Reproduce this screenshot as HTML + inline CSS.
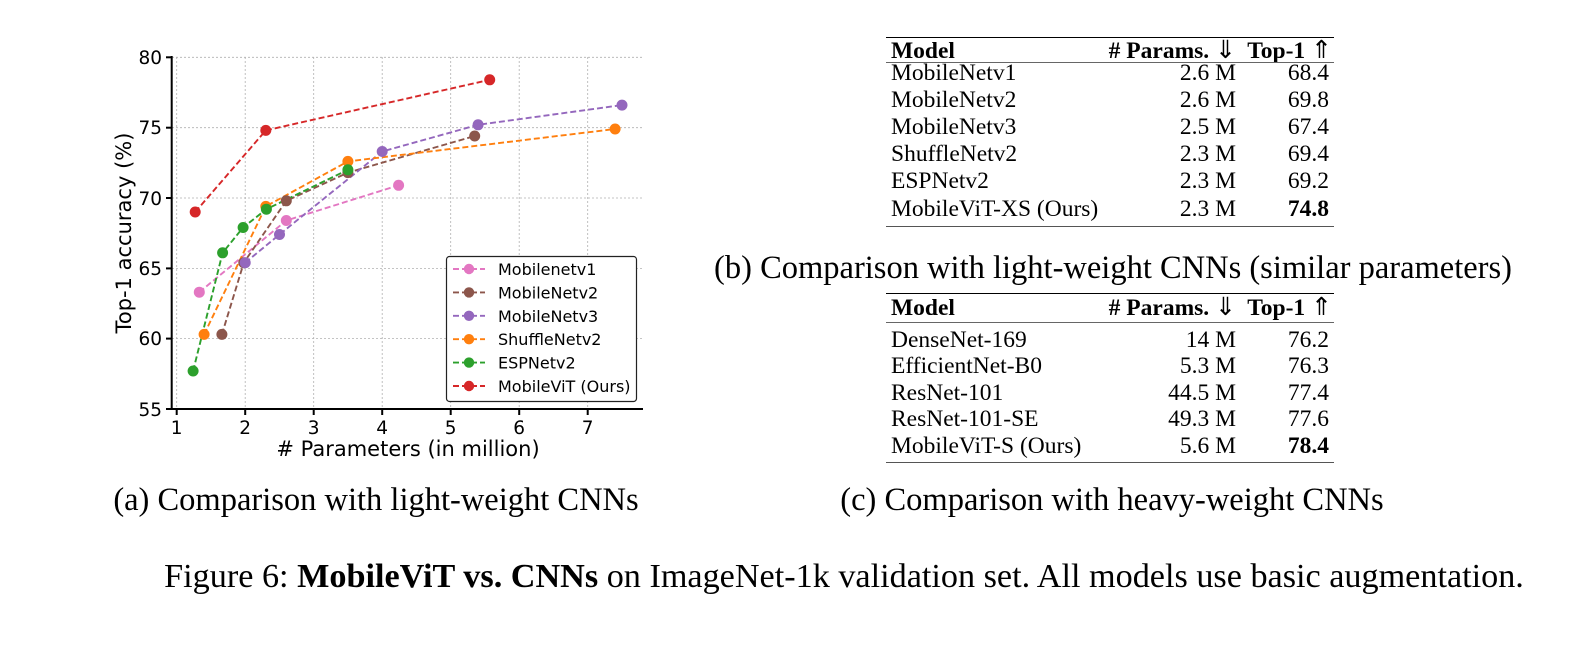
<!DOCTYPE html>
<html><head><meta charset="utf-8"><style>
html,body{margin:0;padding:0;background:#fff;}
body{width:1586px;height:646px;position:relative;overflow:hidden;}
.tb{position:absolute;left:886px;width:448px;font-family:"Liberation Serif",serif;font-size:23.5px;color:#000;}
.tb .r{position:absolute;left:0;width:448px;height:26px;line-height:26px;}
.tb .a{position:absolute;left:5px;}
.tb .b{position:absolute;right:98px;}
.tb .c{position:absolute;right:5px;}
.rule{position:absolute;left:0;width:448px;}
</style></head><body>

<div class="tb" style="top:37px;">
 <div class="rule" style="top:0;border-top:1.5px solid #000"></div>
 <div class="r" style="top:1px;font-weight:bold"><span class="a">Model</span><span style="position:absolute;right:98px;"># Params. <span style="font-weight:normal;font-size:25px">⇓</span></span><span class="c" style="right:2px">Top-1 <span style="font-weight:normal;font-size:25px">⇑</span></span></div>
 <div class="rule" style="top:25px;border-top:1px solid #666"></div>
 <div class="r" style="top:23px"><span class="a">MobileNetv1</span><span class="b">2.6 M</span><span class="c">68.4</span></div>
 <div class="r" style="top:50px"><span class="a">MobileNetv2</span><span class="b">2.6 M</span><span class="c">69.8</span></div>
 <div class="r" style="top:77px"><span class="a">MobileNetv3</span><span class="b">2.5 M</span><span class="c">67.4</span></div>
 <div class="r" style="top:104px"><span class="a">ShuffleNetv2</span><span class="b">2.3 M</span><span class="c">69.4</span></div>
 <div class="r" style="top:131px"><span class="a">ESPNetv2</span><span class="b">2.3 M</span><span class="c">69.2</span></div>
 <div class="r" style="top:159px"><span class="a">MobileViT-XS (Ours)</span><span class="b">2.3 M</span><span class="c" style="font-weight:bold">74.8</span></div>
 <div class="rule" style="top:189px;border-top:1.5px solid #555"></div>
</div>

<div class="tb" style="top:293px;">
 <div class="rule" style="top:0;border-top:1.5px solid #000"></div>
 <div class="r" style="top:2px;font-weight:bold"><span class="a">Model</span><span style="position:absolute;right:98px;"># Params. <span style="font-weight:normal;font-size:25px">⇓</span></span><span class="c" style="right:2px">Top-1 <span style="font-weight:normal;font-size:25px">⇑</span></span></div>
 <div class="rule" style="top:29px;border-top:1px solid #666"></div>
 <div class="r" style="top:34px"><span class="a">DenseNet-169</span><span class="b">14 M</span><span class="c">76.2</span></div>
 <div class="r" style="top:60px"><span class="a">EfficientNet-B0</span><span class="b">5.3 M</span><span class="c">76.3</span></div>
 <div class="r" style="top:87px"><span class="a">ResNet-101</span><span class="b">44.5 M</span><span class="c">77.4</span></div>
 <div class="r" style="top:113px"><span class="a">ResNet-101-SE</span><span class="b">49.3 M</span><span class="c">77.6</span></div>
 <div class="r" style="top:140px"><span class="a">MobileViT-S (Ours)</span><span class="b">5.6 M</span><span class="c" style="font-weight:bold">78.4</span></div>
 <div class="rule" style="top:169px;border-top:1.5px solid #555"></div>
</div>

<svg width="1586" height="646" style="position:absolute;left:0;top:0" xmlns="http://www.w3.org/2000/svg">
<g stroke="#b0b0b0" stroke-width="0.8" stroke-dasharray="2,2">
<line x1="176.7" y1="57" x2="176.7" y2="409"/><line x1="245.2" y1="57" x2="245.2" y2="409"/><line x1="313.7" y1="57" x2="313.7" y2="409"/><line x1="382.2" y1="57" x2="382.2" y2="409"/><line x1="450.7" y1="57" x2="450.7" y2="409"/><line x1="519.2" y1="57" x2="519.2" y2="409"/><line x1="587.7" y1="57" x2="587.7" y2="409"/>
<line x1="172" y1="57.3" x2="643" y2="57.3"/><line x1="172" y1="127.7" x2="643" y2="127.7"/><line x1="172" y1="198" x2="643" y2="198"/><line x1="172" y1="268.4" x2="643" y2="268.4"/><line x1="172" y1="338.6" x2="643" y2="338.6"/>
</g>
<g stroke="#000" stroke-width="2">
<line x1="171.7" y1="56" x2="171.7" y2="410"/><line x1="171" y1="409" x2="643" y2="409"/>
<line x1="166" y1="57.3" x2="171" y2="57.3"/><line x1="166" y1="127.7" x2="171" y2="127.7"/><line x1="166" y1="198" x2="171" y2="198"/><line x1="166" y1="268.4" x2="171" y2="268.4"/><line x1="166" y1="338.6" x2="171" y2="338.6"/><line x1="166" y1="409" x2="171" y2="409"/>
<line x1="176.7" y1="409" x2="176.7" y2="415"/><line x1="245.2" y1="409" x2="245.2" y2="415"/><line x1="313.7" y1="409" x2="313.7" y2="415"/><line x1="382.2" y1="409" x2="382.2" y2="415"/><line x1="450.7" y1="409" x2="450.7" y2="415"/><line x1="519.2" y1="409" x2="519.2" y2="415"/><line x1="587.7" y1="409" x2="587.7" y2="415"/>
</g>
<g font-family="DejaVu Sans, sans-serif" font-size="18.5" fill="#000" text-anchor="end">
<text x="162" y="64">80</text><text x="162" y="134">75</text><text x="162" y="205">70</text><text x="162" y="275">65</text><text x="162" y="345">60</text><text x="162" y="416">55</text>
</g>
<g font-family="DejaVu Sans, sans-serif" font-size="18.5" fill="#000" text-anchor="middle">
<text x="176.7" y="434">1</text><text x="245.2" y="434">2</text><text x="313.7" y="434">3</text><text x="382.2" y="434">4</text><text x="450.7" y="434">5</text><text x="519.2" y="434">6</text><text x="587.7" y="434">7</text>
<text x="408" y="456" font-size="21"># Parameters (in million)</text>
<text transform="translate(131,233) rotate(-90)" font-size="21">Top-1 accuracy (%)</text>
</g>
<g fill="none" stroke-width="1.9" stroke-dasharray="6,3">
<polyline stroke="#e377c2" points="199.3,292.2 286.3,220.5 398.6,185.3"/>
<polyline stroke="#8c564b" points="221.9,334.4 243.8,262.7 286.3,200.8 347.9,172.6 474.7,136"/>
<polyline stroke="#9467bd" points="245.2,262.7 279.5,234.5 382.2,151.5 478.1,124.8 622,105.1"/>
<polyline stroke="#ff7f0e" points="204.1,334.4 265.8,206.4 347.9,161.4 615.1,129"/>
<polyline stroke="#2ca02c" points="193.1,371 222.6,252.8 243.1,227.5 266.4,209.2 347.9,169.8"/>
<polyline stroke="#d62728" points="195.2,212 265.8,130.4 489.7,79.8"/>
</g>
<g fill="#e377c2"><circle cx="199.3" cy="292.2" r="5.5"/><circle cx="286.3" cy="220.5" r="5.5"/><circle cx="398.6" cy="185.3" r="5.5"/></g>
<g fill="#8c564b"><circle cx="221.9" cy="334.4" r="5.5"/><circle cx="243.8" cy="262.7" r="5.5"/><circle cx="286.3" cy="200.8" r="5.5"/><circle cx="347.9" cy="172.6" r="5.5"/><circle cx="474.7" cy="136" r="5.5"/></g>
<g fill="#9467bd"><circle cx="245.2" cy="262.7" r="5.5"/><circle cx="279.5" cy="234.5" r="5.5"/><circle cx="382.2" cy="151.5" r="5.5"/><circle cx="478.1" cy="124.8" r="5.5"/><circle cx="622" cy="105.1" r="5.5"/></g>
<g fill="#ff7f0e"><circle cx="204.1" cy="334.4" r="5.5"/><circle cx="265.8" cy="206.4" r="5.5"/><circle cx="347.9" cy="161.4" r="5.5"/><circle cx="615.1" cy="129" r="5.5"/></g>
<g fill="#2ca02c"><circle cx="193.1" cy="371" r="5.5"/><circle cx="222.6" cy="252.8" r="5.5"/><circle cx="243.1" cy="227.5" r="5.5"/><circle cx="266.4" cy="209.2" r="5.5"/><circle cx="347.9" cy="169.8" r="5.5"/></g>
<g fill="#d62728"><circle cx="195.2" cy="212" r="5.5"/><circle cx="265.8" cy="130.4" r="5.5"/><circle cx="489.7" cy="79.8" r="5.5"/></g>
<rect x="446.5" y="256.5" width="190" height="145" rx="3" fill="#fff" stroke="#222" stroke-width="1.2"/>
<g stroke-width="1.9" stroke-dasharray="6,3">
<line x1="453" y1="269" x2="485" y2="269" stroke="#e377c2"/>
<line x1="453" y1="292.4" x2="485" y2="292.4" stroke="#8c564b"/>
<line x1="453" y1="315.8" x2="485" y2="315.8" stroke="#9467bd"/>
<line x1="453" y1="339.2" x2="485" y2="339.2" stroke="#ff7f0e"/>
<line x1="453" y1="362.6" x2="485" y2="362.6" stroke="#2ca02c"/>
<line x1="453" y1="386" x2="485" y2="386" stroke="#d62728"/>
</g>
<circle cx="469" cy="269" r="5.2" fill="#e377c2"/><circle cx="469" cy="292.4" r="5.2" fill="#8c564b"/><circle cx="469" cy="315.8" r="5.2" fill="#9467bd"/><circle cx="469" cy="339.2" r="5.2" fill="#ff7f0e"/><circle cx="469" cy="362.6" r="5.2" fill="#2ca02c"/><circle cx="469" cy="386" r="5.2" fill="#d62728"/>
<g font-family="DejaVu Sans, sans-serif" font-size="16" fill="#000">
<text x="498" y="275">Mobilenetv1</text><text x="498" y="298.4">MobileNetv2</text><text x="498" y="321.8">MobileNetv3</text><text x="498" y="345.2">ShuffleNetv2</text><text x="498" y="368.6">ESPNetv2</text><text x="498" y="392">MobileViT (Ours)</text>
</g>
<g font-family="Liberation Serif, serif" font-size="32.5" fill="#000" text-anchor="middle">
<text x="376" y="510">(a) Comparison with light-weight CNNs</text>
<text x="1113" y="278">(b) Comparison with light-weight CNNs (similar parameters)</text>
<text x="1112" y="510">(c) Comparison with heavy-weight CNNs</text>
<text x="844" y="587" font-size="34.2">Figure 6: <tspan font-weight="bold">MobileViT vs. CNNs</tspan> on ImageNet-1k validation set. All models use basic augmentation.</text>
</g>
</svg>
</body></html>
